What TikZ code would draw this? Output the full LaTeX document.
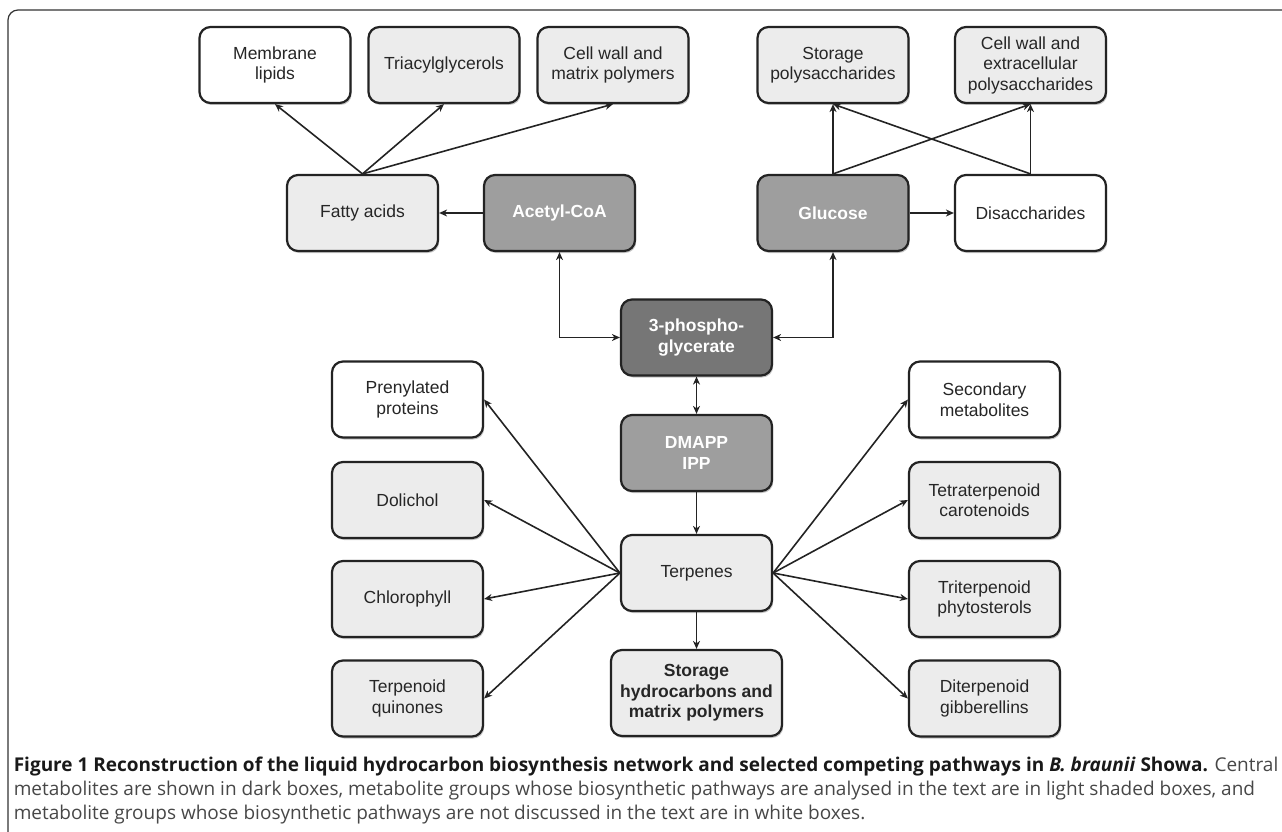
\documentclass[tikz,border=0pt]{standalone}
\usepackage{fontspec}
\setmainfont{Liberation Sans}
\newfontfamily\capfont{Open Sans}
\usetikzlibrary{arrows.meta}
\usetikzlibrary{shadows}

\definecolor{boxlight}{RGB}{236,236,236}
\definecolor{boxdark}{RGB}{158,158,158}
\definecolor{boxdarker}{RGB}{118,118,118}
\definecolor{linegray}{RGB}{35,35,35}

\begin{document}
\begin{tikzpicture}
[x=1pt,y=-1pt,line width=1.6pt,>={Stealth[length=8pt,width=7pt,inset=2.5pt]},
 metbox/.style={draw=linegray,line width=2.2pt,rounded corners=11pt,minimum width=151pt,minimum height=76pt,inner sep=0pt,align=center,font=\fontsize{17.5}{20.5}\selectfont,text=black!85,drop shadow={shadow xshift=1.2pt,shadow yshift=-2pt,fill=black!45}},
 whitebox/.style={metbox,fill=white},
 lightbox/.style={metbox,fill=boxlight},
 darkbox/.style={metbox,fill=boxdark,text=white,font=\bfseries\fontsize{17.5}{20.5}\selectfont},
 centralbox/.style={darkbox,fill=boxdarker},
 captext/.style={anchor=base west,inner sep=0pt,text=black!72,font=\capfont\fontsize{19}{24}\selectfont}]

\useasboundingbox (0,0) rectangle (1282,832);
\draw[line width=1.2pt,draw=black!80,rounded corners=10pt] (8,880) -- (8,10) -- (1320,10); %frame

% top row
\node[whitebox] (memb) at (275,65) {Membrane\\lipids};
\node[lightbox] (triac) at (444,65) {Triacylglycerols};
\node[lightbox] (cwmat) at (613,65) {Cell wall and\\matrix polymers};
\node[lightbox] (storpoly) at (833,65) {Storage\\polysaccharides};
\node[lightbox] (cwext) at (1030.5,65) {Cell wall and\\extracellular\\polysaccharides};

\node[lightbox] (fatty) at (362.5,213) {Fatty acids};
\node[darkbox] (acetyl) at (559.5,213) {Acetyl-CoA};
\node[darkbox] (glucose) at (833,213) {Glucose};
\node[whitebox] (disacch) at (1030.5,213) {Disaccharides};

% centre column
\node[centralbox] (pga) at (696.5,337.5) {3-phospho-\\glycerate};
\node[darkbox] (dmapp) at (696.5,453) {DMAPP\\IPP};
\node[lightbox] (terp) at (696.5,573) {Terpenes};
\node[lightbox,minimum width=171pt,minimum height=86pt,font=\bfseries\fontsize{17.5}{20.5}\selectfont] (storhc) at (696.5,693) {Storage\\hydrocarbons and\\matrix polymers};

% side columns
\node[whitebox] (prenyl) at (407.5,399.5) {Prenylated\\proteins};
\node[lightbox] (dolichol) at (407.5,500) {Dolichol};
\node[lightbox] (chloro) at (407.5,599) {Chlorophyll};
\node[lightbox] (quinone) at (407.5,698.5) {Terpenoid\\quinones};
\node[whitebox] (secmet) at (984.5,399.5) {Secondary\\metabolites};
\node[lightbox] (tetra) at (984.5,500) {Tetraterpenoid\\carotenoids};
\node[lightbox] (tri) at (984.5,599) {Triterpenoid\\phytosterols};
\node[lightbox] (di) at (984.5,698.5) {Diterpenoid\\gibberellins};

\draw[->,draw=linegray] (fatty.north) -- (memb.south);
\draw[->,draw=linegray] (fatty.north) -- (triac.south);
\draw[->,draw=linegray] (fatty.north) -- (cwmat.south);
\draw[->,draw=linegray] (acetyl.west) -- (fatty.east);
\draw[->,draw=linegray] (glucose.north) -- (storpoly.south);
\draw[->,draw=linegray] (glucose.north) -- (cwext.south);
\draw[->,draw=linegray] (disacch.north) -- (storpoly.south);
\draw[->,draw=linegray] (disacch.north) -- (cwext.south);
\draw[->,draw=linegray] (glucose.east) -- (disacch.west);

\draw[<->,draw=linegray] (acetyl.south) |- (pga.west);
\draw[<->,draw=linegray] (glucose.south) |- (pga.east);
\draw[<->,draw=linegray] (pga.south) -- (dmapp.north);
\draw[->,draw=linegray] (dmapp.south) -- (terp.north);
\draw[->,draw=linegray] (terp.south) -- (storhc.north);

\draw[->,draw=linegray] (terp.west) -- (prenyl.east);
\draw[->,draw=linegray] (terp.west) -- (dolichol.east);
\draw[->,draw=linegray] (terp.west) -- (chloro.east);
\draw[->,draw=linegray] (terp.west) -- (quinone.east);
\draw[->,draw=linegray] (terp.east) -- (secmet.west);
\draw[->,draw=linegray] (terp.east) -- (tetra.west);
\draw[->,draw=linegray] (terp.east) -- (tri.west);
\draw[->,draw=linegray] (terp.east) -- (di.west);

% caption
\node[captext] (cap1) at (13,771) {\textcolor{black!90}{\textbf{Figure 1 Reconstruction of the liquid hydrocarbon biosynthesis network and selected competing pathways in \textit{B. braunii} Showa.}} Central};
\node[captext] (cap2) at (13,795) {metabolites are shown in dark boxes, metabolite groups whose biosynthetic pathways are analysed in the text are in light shaded boxes, and};
\node[captext] (cap3) at (13,819) {metabolite groups whose biosynthetic pathways are not discussed in the text are in white boxes.};
\end{tikzpicture}
\end{document}
